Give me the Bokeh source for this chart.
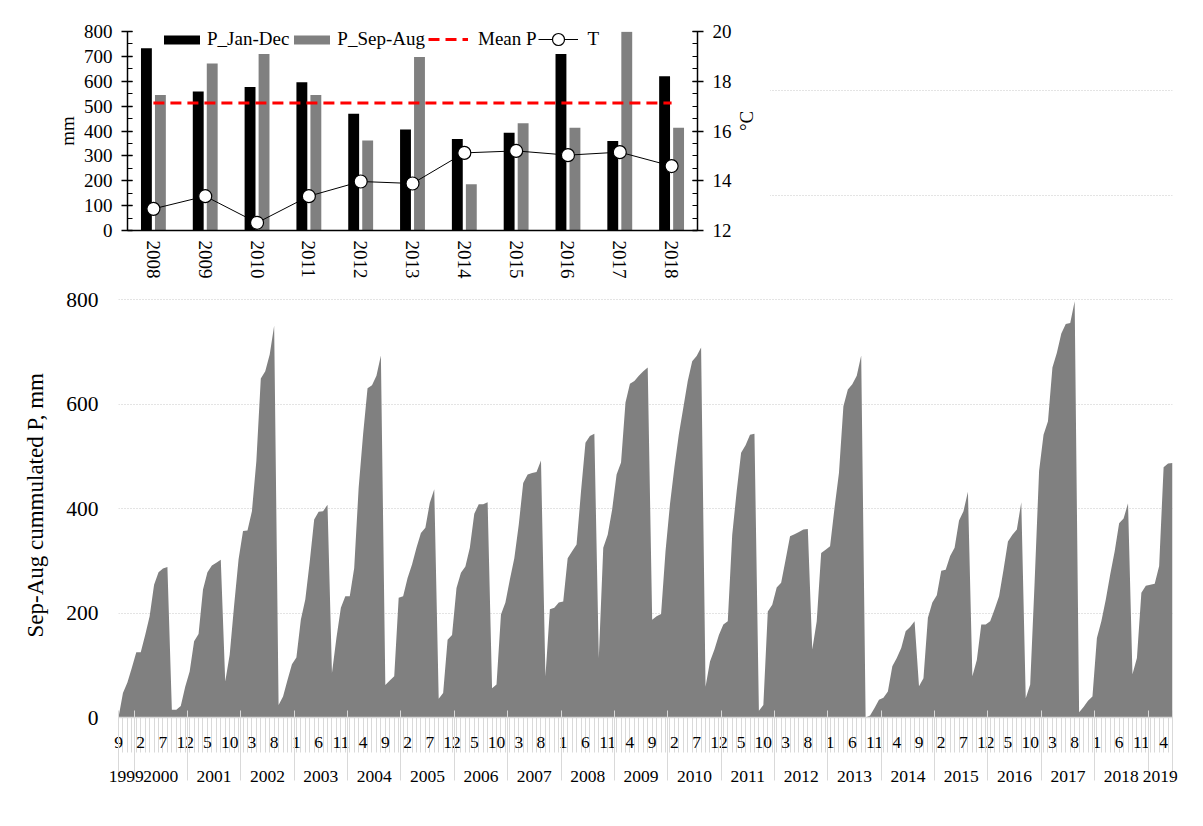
import math
from bokeh.plotting import figure
from bokeh.layouts import column
from bokeh.models import (Range1d, FactorRange, LinearAxis, FixedTicker, Legend, LegendItem,
                          ColumnDataSource, Title)
from bokeh.transform import dodge
from bokeh.embed import file_html
from bokeh.resources import INLINE

FONT = "Liberation Serif"

# ---------------- inset data (annual) ----------------
years = ["2008", "2009", "2010", "2011", "2012", "2013", "2014", "2015", "2016", "2017", "2018"]
p_jan_dec = [733, 559, 577, 596, 469, 406, 368, 393, 710, 360, 620]
p_sep_aug = [545, 671, 710, 545, 362, 697, 186, 431, 413, 799, 413]
mean_p = 513
temp_c = [12.87, 13.38, 12.31, 13.38, 13.97, 13.89, 15.12, 15.20, 15.03, 15.15, 14.59]

# ---------------- main data (monthly Sep-Aug cumulated P, mm) ----------------
first_year, first_month = 1999, 9
hy2000 = [0, 47, 67, 95, 125, 125, 158, 194, 254, 278, 285, 288]
hy2001 = [15, 15, 22, 59, 88, 146, 160, 245, 278, 291, 296, 302]
hy2002 = [69, 120, 215, 303, 357, 358, 395, 491, 649, 663, 695, 750]
hy2003 = [24, 40, 72, 102, 115, 187, 226, 298, 379, 394, 395, 407]
hy2004 = [85, 152, 210, 232, 232, 286, 440, 542, 630, 636, 654, 693]
hy2005 = [62, 71, 79, 229, 232, 267, 293, 325, 353, 363, 411, 437]
hy2006 = [36, 47, 149, 158, 248, 277, 289, 325, 390, 408, 408, 412]
hy2007 = [56, 63, 197, 220, 264, 305, 369, 449, 465, 468, 470, 492]
hy2008 = [79, 207, 210, 220, 222, 305, 318, 331, 433, 526, 539, 543]
hy2009 = [114, 325, 350, 398, 465, 488, 603, 639, 644, 654, 663, 670]
hy2010 = [187, 194, 198, 318, 408, 479, 542, 593, 644, 682, 692, 708]
hy2011 = [59, 107, 130, 158, 178, 184, 350, 433, 507, 521, 541, 543]
hy2012 = [13, 24, 203, 216, 249, 258, 302, 347, 351, 355, 360, 361]
hy2013 = [130, 184, 315, 321, 328, 401, 468, 596, 628, 638, 654, 693]
hy2014 = [0, 4, 18, 34, 38, 50, 98, 114, 133, 165, 173, 184]
hy2015 = [60, 75, 191, 220, 234, 281, 283, 309, 325, 377, 395, 432]
hy2016 = [79, 110, 178, 178, 184, 207, 232, 283, 337, 350, 360, 412]
hy2017 = [37, 63, 260, 472, 541, 567, 670, 698, 735, 753, 755, 797]
hy2018 = [10, 20, 32, 40, 152, 184, 226, 274, 318, 372, 381, 410]
hy2019 = [83, 114, 239, 252, 254, 256, 290, 479, 486, 487]

monthly = (hy2000 + hy2001 + hy2002 + hy2003 + hy2004 + hy2005 + hy2006 + hy2007 + hy2008 +
           hy2009 + hy2010 + hy2011 + hy2012 + hy2013 + hy2014 + hy2015 + hy2016 + hy2017 +
           hy2018 + hy2019)
n = len(monthly)
idx = list(range(n))
month_no = [((first_month - 1 + i) % 12) + 1 for i in idx]
year_no = [first_year + (first_month - 1 + i) // 12 for i in idx]

# ---------------- main figure ----------------
B_LEFT = 118
B_TOP, F_H, B_BOT = 88, 629, 100
MAIN_H = B_TOP + F_H + B_BOT
main = figure(x_range=Range1d(0, n - 1), y_range=Range1d(0, 1204),
              frame_width=1054, frame_height=F_H,
              min_border_left=B_LEFT, min_border_right=23, min_border_top=B_TOP,
              min_border_bottom=B_BOT,
              output_backend="svg", toolbar_location=None,
              background_fill_color="white", border_fill_color="white", outline_line_color=None)

src = ColumnDataSource(dict(idx=idx, p=monthly))
main.varea(x="idx", y1=0, y2="p", source=src, fill_color="#808080")

# month axis
label_idx = [i for i in idx if i % 5 == 0]
ax1 = main.xaxis[0]
ax1.ticker = FixedTicker(ticks=label_idx, minor_ticks=idx)
ax1.major_label_overrides = {i: str(month_no[i]) for i in label_idx}
ax1.axis_line_color = "#d9d9d9"
ax1.axis_line_width = 1.5
ax1.major_tick_line_color = None
ax1.major_tick_out = 35
ax1.major_tick_in = 0
ax1.minor_tick_line_color = "#d9d9d9"
ax1.minor_tick_out = 35
ax1.minor_tick_in = 0
ax1.major_label_standoff = -16
ax1.major_label_text_font = FONT
ax1.major_label_text_font_size = "17.5px"
ax1.major_label_text_color = "black"

# year axis
uyears = sorted(set(year_no))
seps = [0] + [i - 0.5 for i in idx if month_no[i] == 1] + [n - 1]
centers = [(seps[k] + seps[k + 1]) / 2 for k in range(len(uyears))]
ax2 = LinearAxis(ticker=FixedTicker(ticks=centers, minor_ticks=seps))
ax2.major_label_overrides = {c: str(y) for c, y in zip(centers, uyears)}
ax2.axis_line_color = None
ax2.major_tick_line_color = None
ax2.major_tick_out = 32
ax2.major_tick_in = 0
ax2.minor_tick_line_color = "#d9d9d9"
ax2.minor_tick_in = 40
ax2.minor_tick_out = 30
ax2.major_label_standoff = -12
ax2.major_label_text_font = FONT
ax2.major_label_text_font_size = "17.5px"
ax2.major_label_text_color = "black"
main.add_layout(ax2, "below")

yt = list(range(0, 1201, 200))
main.yaxis.ticker = FixedTicker(ticks=yt)
main.yaxis.axis_line_color = None
main.yaxis.major_tick_line_color = None
main.yaxis.minor_tick_line_color = None
main.yaxis.major_tick_out = 0
main.yaxis.major_label_standoff = 20
main.yaxis.major_label_text_font = FONT
main.yaxis.major_label_text_font_size = "21.5px"
main.yaxis.major_label_text_color = "black"
main.xgrid.visible = False
main.ygrid.ticker = FixedTicker(ticks=yt)
main.ygrid.grid_line_color = "#c8c8c8"
main.ygrid.grid_line_dash = "1 2"

main.add_layout(Title(text="Sep-Aug cummulated P, mm", align="left", offset=80,
                      text_font=FONT, text_font_size="23px", text_font_style="normal",
                      text_color="black", standoff=10), "left")

# ---------------- inset figure ----------------
# the column aligns the left borders of both figures, so the inset keeps the same
# left border and is shifted with its own margin
INSET_SHIFT = 9
inset = figure(x_range=FactorRange(*years), y_range=Range1d(0, 800),
               frame_width=570, frame_height=199,
               min_border_left=B_LEFT, min_border_right=64, min_border_top=31,
               min_border_bottom=62,
               output_backend="svg", toolbar_location=None,
               background_fill_color="white", border_fill_color="white", outline_line_color=None)
inset.extra_y_ranges = {"temp": Range1d(12, 20)}

isrc = ColumnDataSource(dict(year=years, jd=p_jan_dec, sa=p_sep_aug,
                             mean=[mean_p] * len(years), t=temp_c))
rb = inset.vbar(x=dodge("year", -0.135, range=inset.x_range), top="jd", width=0.21,
                source=isrc, fill_color="black", line_color=None)
rg = inset.vbar(x=dodge("year", 0.135, range=inset.x_range), top="sa", width=0.21,
                source=isrc, fill_color="#808080", line_color=None)
rm = inset.line(x="year", y="mean", source=isrc, line_color="#ff0000", line_width=3,
                line_dash="11 6")
rt = inset.line(x="year", y="t", source=isrc, y_range_name="temp", line_color="black",
                line_width=1)
rs = inset.scatter(x="year", y="t", source=isrc, y_range_name="temp", size=13,
                   fill_color="white", line_color="black", line_width=1.2)

ly = inset.yaxis[0]
ly.ticker = FixedTicker(ticks=list(range(0, 801, 100)), minor_ticks=list(range(0, 801, 50)))
ly.axis_label = "mm"
ry = LinearAxis(y_range_name="temp", axis_label="°C",
                ticker=FixedTicker(ticks=[12, 14, 16, 18, 20],
                                   minor_ticks=[12 + 0.5 * k for k in range(17)]))
inset.add_layout(ry, "right")
for ax in (ly, ry):
    ax.axis_line_color = "black"
    ax.axis_line_width = 1.5
    ax.major_tick_line_color = "black"
    ax.major_tick_line_width = 1.5
    ax.major_tick_in = 5
    ax.major_tick_out = 6
    ax.minor_tick_line_color = "black"
    ax.minor_tick_line_width = 1.2
    ax.minor_tick_in = 5
    ax.minor_tick_out = 0
    ax.major_label_standoff = 9
    ax.major_label_text_font = FONT
    ax.major_label_text_font_size = "19px"
    ax.major_label_text_color = "black"
    ax.axis_label_text_font = FONT
    ax.axis_label_text_font_size = "19px"
    ax.axis_label_text_font_style = "normal"
    ax.axis_label_text_color = "black"
ly.axis_label_standoff = 3
ry.axis_label_standoff = 12
if "axis_label_orientation" in ry.properties():
    ry.axis_label_orientation = math.pi / 2

bx = inset.xaxis[0]
bx.axis_line_color = "black"
bx.axis_line_width = 1.5
bx.major_tick_line_color = None
bx.minor_tick_line_color = None
bx.major_tick_out = 0
bx.major_label_standoff = 10
bx.major_label_orientation = "vertical"
bx.major_label_text_font = FONT
bx.major_label_text_font_size = "19px"
bx.major_label_text_color = "black"
inset.xgrid.visible = False
inset.ygrid.visible = False

common = dict(orientation="horizontal", padding=0, margin=0, border_line_color=None,
              background_fill_alpha=0, label_text_font=FONT, label_text_font_size="19px",
              label_text_color="black")
leg1 = Legend(items=[LegendItem(label="P_Jan-Dec", renderers=[rb]),
                     LegendItem(label="P_Sep-Aug", renderers=[rg])],
              location=(32, 180), glyph_width=45, glyph_height=11, label_standoff=3,
              spacing=0, **common)
leg2 = Legend(items=[LegendItem(label="Mean P", renderers=[rm]),
                     LegendItem(label="T", renderers=[rt, rs])],
              location=(301, 176), glyph_width=40, glyph_height=30, label_standoff=10,
              spacing=1, **common)
inset.add_layout(leg1)
inset.add_layout(leg2)

# overlay the inset on the top-left corner of the main chart
inset.margin = (-MAIN_H, 0, 0, INSET_SHIFT)
layout = column(main, inset)

with open("out.html", "w") as f:
    f.write(file_html(layout, INLINE))
